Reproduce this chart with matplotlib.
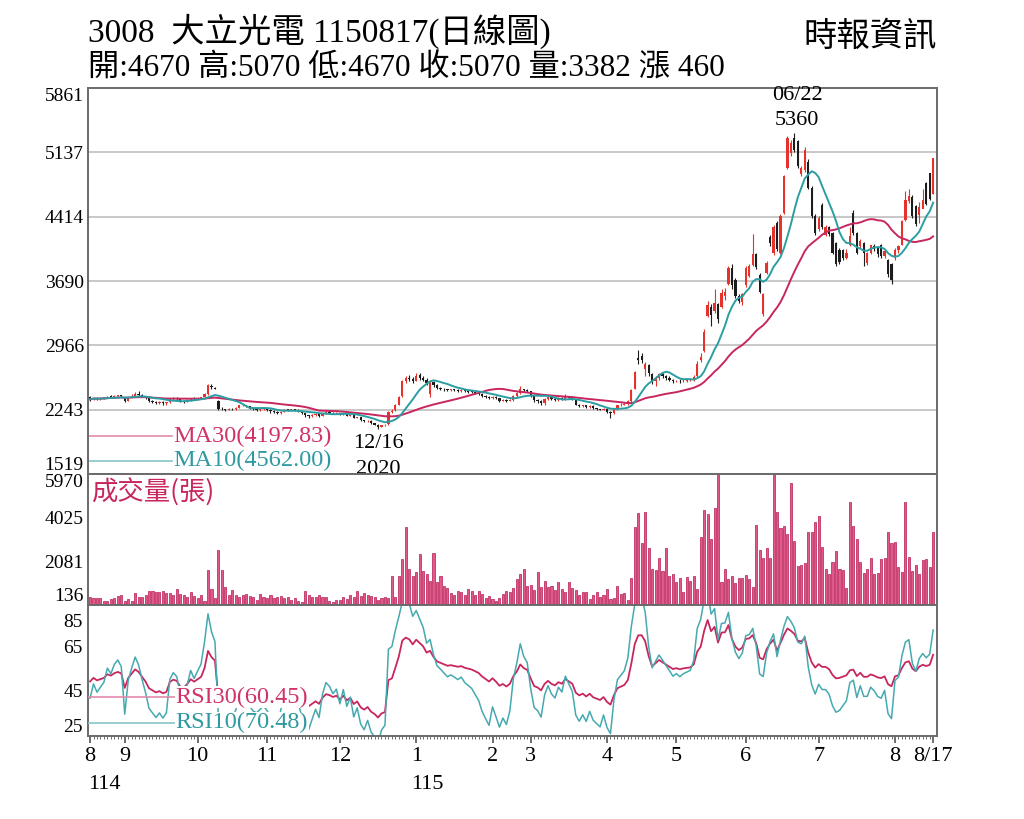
import numpy as np
import pandas as pd
import matplotlib
matplotlib.use('Agg')
import matplotlib.pyplot as plt

plt.rcParams['font.family'] = ['Liberation Serif', 'Noto Sans CJK TC']

# daily OHLC, 2025/08/18 .. 2026/08/17
opens = [2380, 2360, 2370, 2365, 2370, 2375, 2390, 2385, 2395, 2400,
         2380, 2345, 2385, 2400, 2420, 2410, 2390, 2370, 2340, 2330,
         2320, 2325, 2315, 2325, 2360, 2370, 2365, 2340, 2335, 2350,
         2370, 2360, 2370, 2385, 2420, 2510, 2490, 2340, 2255, 2245,
         2240, 2250, 2245, 2265, 2290, 2295, 2280, 2260, 2245, 2240,
         2245, 2250, 2240, 2225, 2215, 2200, 2220, 2240, 2235, 2245,
         2240, 2225, 2200, 2180, 2170, 2180, 2190, 2175, 2200, 2215,
         2210, 2200, 2205, 2185, 2200, 2175, 2185, 2150, 2160, 2125,
         2110, 2120, 2090, 2075, 2050, 2065, 2080, 2220, 2240, 2300,
         2400, 2560, 2600, 2590, 2570, 2630, 2600, 2580, 2420, 2550,
         2520, 2490, 2480, 2470, 2460, 2465, 2460, 2455, 2460, 2450,
         2445, 2440, 2430, 2420, 2400, 2385, 2370, 2390, 2370, 2345,
         2355, 2340, 2355, 2400, 2430, 2470, 2460, 2450, 2400, 2350,
         2340, 2320, 2360, 2380, 2360, 2350, 2370, 2360, 2390, 2375,
         2355, 2300, 2280, 2290, 2270, 2285, 2260, 2250, 2240, 2255,
         2220, 2200, 2250, 2290, 2300, 2310, 2340, 2480, 2820, 2850,
         2700, 2740, 2640, 2560, 2600, 2640, 2620, 2600, 2580, 2560,
         2570, 2560, 2560, 2575, 2580, 2620, 2800, 2900, 3300, 3400,
         3350, 3430, 3400, 3520, 3660, 3840, 3700, 3520, 3450, 3640,
         3750, 3870, 3990, 3760, 3320, 3780, 4190, 4000, 4340, 4000,
         4450, 4960, 5130, 5300, 5260, 4890, 4940, 5030, 4740, 4420,
         4270, 4550, 4210, 4300, 4230, 4120, 4040, 4040, 3950, 4100,
         4455, 4230, 4080, 4120, 3890, 4000, 4080, 4060, 4100, 3970,
         3930, 3880, 3950, 4040, 4100, 4380, 4590, 4640, 4530, 4430,
         4500, 4790, 4900, 4670]
highs = [2400, 2385, 2380, 2380, 2385, 2400, 2405, 2410, 2410, 2405,
         2385, 2390, 2420, 2440, 2450, 2415, 2395, 2375, 2350, 2340,
         2340, 2335, 2330, 2370, 2380, 2385, 2370, 2355, 2360, 2375,
         2380, 2385, 2390, 2430, 2530, 2530, 2500, 2350, 2270, 2255,
         2260, 2260, 2275, 2300, 2310, 2300, 2285, 2265, 2255, 2255,
         2260, 2260, 2245, 2235, 2225, 2230, 2250, 2250, 2255, 2255,
         2250, 2230, 2205, 2185, 2190, 2200, 2195, 2210, 2225, 2225,
         2220, 2215, 2210, 2205, 2205, 2190, 2190, 2165, 2165, 2130,
         2125, 2125, 2095, 2080, 2070, 2080, 2230, 2250, 2310, 2400,
         2580, 2620, 2630, 2610, 2650, 2660, 2620, 2600, 2580, 2560,
         2530, 2500, 2490, 2480, 2475, 2475, 2470, 2470, 2470, 2460,
         2455, 2450, 2440, 2425, 2410, 2395, 2400, 2395, 2375, 2365,
         2360, 2365, 2410, 2440, 2510, 2480, 2470, 2455, 2410, 2360,
         2350, 2370, 2390, 2390, 2380, 2380, 2390, 2420, 2400, 2385,
         2360, 2310, 2300, 2295, 2295, 2290, 2265, 2255, 2260, 2260,
         2225, 2260, 2300, 2320, 2320, 2350, 2470, 2680, 2914, 2880,
         2780, 2760, 2650, 2620, 2660, 2660, 2630, 2620, 2590, 2580,
         2590, 2585, 2590, 2600, 2630, 2790, 2880, 3150, 3460, 3430,
         3600, 3440, 3600, 3610, 3860, 3880, 3720, 3540, 3560, 3860,
         3880, 4220, 4010, 3780, 3560, 3910, 4210, 4320, 4360, 4440,
         4880, 5320, 5280, 5360, 5280, 4980, 5200, 5060, 4760, 4440,
         4420, 4570, 4320, 4310, 4240, 4130, 4060, 4050, 4050, 4300,
         4490, 4240, 4160, 4130, 4020, 4100, 4110, 4080, 4110, 4050,
         3940, 3890, 4060, 4100, 4380, 4700, 4720, 4660, 4550, 4580,
         4720, 4800, 4910, 5070]
lows = [2345, 2350, 2355, 2355, 2360, 2370, 2375, 2375, 2385, 2385,
        2330, 2340, 2380, 2395, 2400, 2380, 2360, 2330, 2315, 2305,
        2310, 2300, 2300, 2320, 2350, 2355, 2330, 2320, 2330, 2345,
        2350, 2350, 2365, 2380, 2410, 2480, 2470, 2240, 2235, 2230,
        2235, 2235, 2240, 2260, 2280, 2270, 2250, 2235, 2230, 2230,
        2240, 2230, 2210, 2205, 2190, 2195, 2215, 2225, 2230, 2230,
        2215, 2190, 2165, 2150, 2160, 2175, 2165, 2170, 2195, 2200,
        2190, 2190, 2180, 2180, 2170, 2170, 2145, 2145, 2120, 2105,
        2105, 2085, 2070, 2020, 2045, 2060, 2075, 2210, 2230, 2290,
        2390, 2540, 2570, 2540, 2560, 2580, 2560, 2520, 2390, 2500,
        2475, 2460, 2455, 2450, 2450, 2450, 2445, 2445, 2440, 2435,
        2430, 2420, 2410, 2390, 2375, 2360, 2360, 2360, 2330, 2335,
        2325, 2335, 2345, 2390, 2420, 2445, 2440, 2390, 2330, 2320,
        2290, 2300, 2350, 2350, 2340, 2340, 2350, 2355, 2365, 2350,
        2290, 2270, 2275, 2260, 2265, 2250, 2240, 2235, 2235, 2210,
        2150, 2195, 2240, 2280, 2290, 2300, 2330, 2470, 2760, 2770,
        2620, 2620, 2530, 2510, 2580, 2600, 2580, 2560, 2540, 2550,
        2545, 2550, 2550, 2560, 2570, 2600, 2780, 2890, 3280, 3180,
        3330, 3220, 3390, 3480, 3640, 3600, 3500, 3440, 3420, 3620,
        3730, 3860, 3830, 3560, 3300, 3770, 4080, 3980, 4030, 3990,
        4440, 4950, 5100, 5140, 4960, 4870, 4920, 4720, 4400, 4210,
        4250, 4280, 4200, 4200, 3990, 3860, 3880, 3930, 3940, 4080,
        4210, 3990, 4060, 3860, 3870, 3990, 4030, 3960, 3950, 3950,
        3740, 3660, 3930, 4010, 4090, 4370, 4570, 4400, 4310, 4340,
        4520, 4550, 4600, 4670]
closes = [2360, 2375, 2365, 2370, 2375, 2390, 2385, 2395, 2400, 2395,
          2340, 2380, 2400, 2420, 2410, 2390, 2370, 2340, 2330, 2320,
          2325, 2315, 2320, 2360, 2370, 2365, 2340, 2335, 2350, 2370,
          2360, 2370, 2380, 2420, 2520, 2495, 2480, 2255, 2245, 2240,
          2250, 2245, 2260, 2290, 2300, 2280, 2260, 2245, 2240, 2245,
          2250, 2240, 2225, 2215, 2200, 2220, 2240, 2235, 2245, 2240,
          2225, 2200, 2180, 2170, 2180, 2190, 2175, 2200, 2215, 2210,
          2200, 2205, 2185, 2200, 2175, 2185, 2150, 2160, 2125, 2110,
          2120, 2090, 2075, 2050, 2065, 2070, 2220, 2230, 2300, 2390,
          2560, 2600, 2590, 2560, 2620, 2600, 2580, 2540, 2560, 2520,
          2490, 2480, 2470, 2460, 2465, 2460, 2455, 2460, 2450, 2445,
          2440, 2430, 2420, 2400, 2385, 2370, 2390, 2370, 2345, 2355,
          2340, 2355, 2400, 2430, 2480, 2460, 2450, 2400, 2350, 2340,
          2320, 2360, 2380, 2360, 2350, 2370, 2360, 2390, 2375, 2360,
          2300, 2280, 2290, 2270, 2285, 2260, 2250, 2240, 2255, 2220,
          2200, 2250, 2290, 2300, 2310, 2340, 2460, 2670, 2800, 2800,
          2760, 2650, 2560, 2600, 2640, 2620, 2600, 2580, 2560, 2570,
          2560, 2570, 2575, 2580, 2610, 2760, 2830, 3120, 3420, 3310,
          3440, 3260, 3560, 3570, 3840, 3640, 3520, 3460, 3540, 3840,
          3860, 3990, 3850, 3570, 3540, 3890, 4120, 4300, 4050, 4420,
          4870, 5300, 5240, 5160, 4980, 4960, 5160, 4740, 4420, 4230,
          4400, 4300, 4300, 4220, 4010, 3880, 3900, 3950, 4000, 4200,
          4230, 4010, 4140, 4000, 4000, 4090, 4050, 3990, 3970, 4030,
          3770, 3700, 4040, 4080, 4360, 4600, 4650, 4420, 4330, 4520,
          4600, 4560, 4610, 5070]
volumes = [506, 430, 430, 430, 300, 330, 390, 430, 530, 580,
           330, 420, 300, 650, 500, 500, 580, 760, 760, 730,
           700, 760, 690, 650, 580, 860, 640, 580, 500, 700,
           530, 430, 580, 330, 1690, 870, 430, 2580, 1690, 950,
           580, 800, 580, 500, 580, 610, 550, 470, 360, 610,
           500, 430, 580, 430, 470, 550, 430, 470, 360, 430,
           330, 280, 760, 580, 500, 470, 580, 500, 470, 320,
           270, 360, 360, 470, 390, 580, 500, 760, 550, 650,
           580, 550, 470, 360, 430, 470, 430, 1430, 500, 1430,
           2200, 3620, 1740, 1430, 1590, 2400, 1660, 1500, 1220, 2470,
           1140, 1440, 1000, 900, 680, 560, 780, 700, 560, 830,
           780, 560, 760, 640, 460, 540, 400, 300, 450, 620,
           780, 700, 900, 1290, 1510, 1730, 1000, 1040, 800, 1590,
           930, 1190, 930, 1000, 790, 1140, 850, 700, 1140, 900,
           790, 560, 700, 700, 400, 560, 700, 490, 560, 850,
           400, 450, 1000, 620, 656, 360, 1320, 3625, 4220, 2880,
           4290, 2660, 1740, 1700, 2245, 1650, 2660, 1430, 1520, 1180,
           1320, 730, 1400, 1200, 1430, 830, 3180, 4370, 4190, 3060,
           4440, 5970, 1150, 1740, 1290, 1430, 1100, 1320, 1320, 1470,
           1280, 950, 3700, 2590, 2245, 2660, 2215, 5970, 4260, 3550,
           3650, 3285, 5560, 2990, 1870, 1920, 2020, 3400, 3400, 3820,
           4110, 2730, 1720, 1500, 2070, 2540, 1760, 1700, 880, 4740,
           3670, 3060, 2040, 1550, 1740, 2215, 1520, 1550, 2190, 2215,
           3400, 2880, 2960, 1840, 1590, 4710, 2290, 1650, 1920, 1500,
           2140, 2170, 1840, 3382]

month_pos = [0, 10, 31, 51, 72, 94, 116, 127, 149, 169, 189, 210, 232, 243]
month_labels = ['8', '9', '10', '11', '12', '1', '2', '3', '4', '5', '6', '7', '8', '8/17']
price_ticks = [1519, 2243, 2966, 3690, 4414, 5137, 5861]
vol_ticks = [136, 2081, 4025, 5970]
rsi_ticks = [25, 45, 65, 85]

RED = '#e5322d'
BLACK = '#1c1c1c'
MAG = '#c8265f'
TEAL = '#2b9ea3'


def calc_rsi(c, n):
    d = np.diff(np.asarray(c, dtype=float))
    up = np.where(d > 0, d, 0.0)
    dn = np.where(d < 0, -d, 0.0)
    au, ad = up[:n].mean(), dn[:n].mean()
    out = [100 * au / (au + ad)]
    for u, v in zip(up, dn):
        au = (au * (n - 1) + u) / n
        ad = (ad * (n - 1) + v) / n
        out.append(100 * au / (au + ad))
    return np.array(out)


x = np.arange(len(closes))
o = np.array(opens, float)
c = np.array(closes, float)
ma10 = pd.Series(c).rolling(10, min_periods=1).mean()
ma30 = pd.Series(c).rolling(30, min_periods=1).mean()
rsi10 = calc_rsi(c, 10)
rsi30 = calc_rsi(c, 30)

fig = plt.figure(figsize=(10.24, 8.19), dpi=100)
L, W = 0.0859, 0.8291
ax1 = fig.add_axes([L, 0.4212, W, 0.4713])
ax2 = fig.add_axes([L, 0.2613, W, 0.1600], sharex=ax1)
ax3 = fig.add_axes([L, 0.1013, W, 0.1600], sharex=ax1)

# price panel
for t in price_ticks[1:-1]:
    ax1.axhline(t, color='#c4c4c4', lw=1.3, zorder=0)
cols = [RED if cc >= oo else BLACK for oo, cc in zip(o, c)]
ax1.vlines(x, lows, highs, colors=cols, lw=0.8, zorder=2)
body = np.maximum(np.abs(c - o), 10)
ax1.bar(x, body, bottom=np.minimum(o, c), width=0.65, color=cols, lw=0, zorder=3)
ax1.plot(x, ma30, color=MAG, lw=1.4, zorder=4)
ax1.plot(x, ma10, color=TEAL, lw=1.4, zorder=4)
ax1.set_ylim(1519, 5861)
ax1.set_yticks(price_ticks)

ihi = int(np.argmax(highs))
ax1.annotate('5360', (ihi, highs[ihi]), xytext=(2, 9), textcoords='offset points',
             ha='center', va='center', fontsize=16)
ax1.annotate('06/22', (ihi, highs[ihi]), xytext=(2, 27), textcoords='offset points',
             ha='center', va='center', fontsize=16, annotation_clip=False)
ilo = int(np.argmin(lows))
ax1.annotate('12/16', (ilo, lows[ilo]), xytext=(0, -10), textcoords='offset points',
             ha='center', va='center', fontsize=16)
ax1.annotate('2020', (ilo, lows[ilo]), xytext=(0, -29), textcoords='offset points',
             ha='center', va='center', fontsize=16,
             bbox=dict(facecolor='white', edgecolor='none', pad=1), zorder=6)

ax1.plot([0, 0.099], [0.098, 0.098], transform=ax1.transAxes, color='#e08aab', lw=1.2)
ax1.plot([0, 0.099], [0.034, 0.034], transform=ax1.transAxes, color='#86c7c9', lw=1.2)
ax1.text(0.1, 0.098, 'MA30(4197.83)', transform=ax1.transAxes, color='#d0336a',
         fontsize=17.5, va='center', ha='left')
ax1.text(0.1, 0.034, 'MA10(4562.00)', transform=ax1.transAxes, color='#2e9aa0',
         fontsize=17.5, va='center', ha='left')

# volume panel
ax2.bar(x, volumes, width=0.6, color='#e0588c', edgecolor='#b81a52', lw=0.5)
ax2.set_ylim(136, 5970)
ax2.set_yticks(vol_ticks)
ax2.text(0.004, 0.86, '成交量(張)', transform=ax2.transAxes, color=MAG,
         fontsize=19, va='center', ha='left', family=['Noto Sans CJK TC'])

# rsi panel
ax3.plot(x, rsi30, color=MAG, lw=1.3)
ax3.plot(x, rsi10, color='#45a9b0', lw=1.1)
ax3.set_ylim(25, 85)
ax3.plot([0, 0.102], [0.298, 0.298], transform=ax3.transAxes, color='#e08aab', lw=1.2, zorder=7)
ax3.plot([0, 0.102], [0.1, 0.1], transform=ax3.transAxes, color='#86c7c9', lw=1.2, zorder=7)
ax3.text(0.103, 0.298, 'RSI30(60.45)', transform=ax3.transAxes, color='#d0336a',
         fontsize=17.5, va='center', ha='left', zorder=8,
         bbox=dict(facecolor='white', edgecolor='none', pad=0.5))
ax3.text(0.103, 0.1, 'RSI10(70.48)', transform=ax3.transAxes, color='#2e9aa0',
         fontsize=17.5, va='center', ha='left', zorder=8,
         bbox=dict(facecolor='white', edgecolor='none', pad=0.5))

ax1.set_xlim(-0.6, len(closes) + 0.1)
for ax in (ax1, ax2):
    ax.tick_params(axis='y', length=0, labelsize=14, pad=3)
    labs = ax.get_yticklabels()
    labs[0].set_va('bottom')
    labs[-1].set_va('top')
ax3.set_yticks([])
ytr = ax3.get_yaxis_transform()
for v, pos, va in zip(rsi_ticks, [25, 45, 65, 77], ['bottom', 'center', 'center', 'center']):
    ax3.text(-0.006, pos, str(v), transform=ytr, ha='right', va=va, fontsize=14)
for ax in (ax1, ax2, ax3):
    for s in ax.spines.values():
        s.set_color('#6a6a6a')
        s.set_linewidth(1.4)

ax1.tick_params(axis='x', which='both', bottom=False, labelbottom=False)
ax2.tick_params(axis='x', which='both', bottom=False, labelbottom=False)
ax3.set_xticks(month_pos)
ax3.set_xticklabels(month_labels)
ax3.set_xticks(x, minor=True)
ax3.tick_params(axis='x', which='major', length=5, width=1.2, labelsize=16, pad=3, color='#555')
ax3.tick_params(axis='x', which='minor', length=2.5, width=0.6, color='#555')
xtr = ax3.get_xaxis_transform()
ax3.text(-0.5, -0.3, '114', transform=xtr, ha='left', va='top', fontsize=16)
ax3.text(92.5, -0.3, '115', transform=xtr, ha='left', va='top', fontsize=16)

fig.text(0.086, 0.949, '3008  大立光電 1150817(日線圖)', fontsize=24, va='baseline')
fig.text(0.086, 0.906, '開:4670 高:5070 低:4670 收:5070 量:3382 漲 460', fontsize=22.5,
         va='baseline')
fig.text(0.915, 0.944, '時報資訊', fontsize=24, va='baseline', ha='right',
         family=['Noto Sans CJK TC'])

fig.savefig('out.png', dpi=100, facecolor='white')
